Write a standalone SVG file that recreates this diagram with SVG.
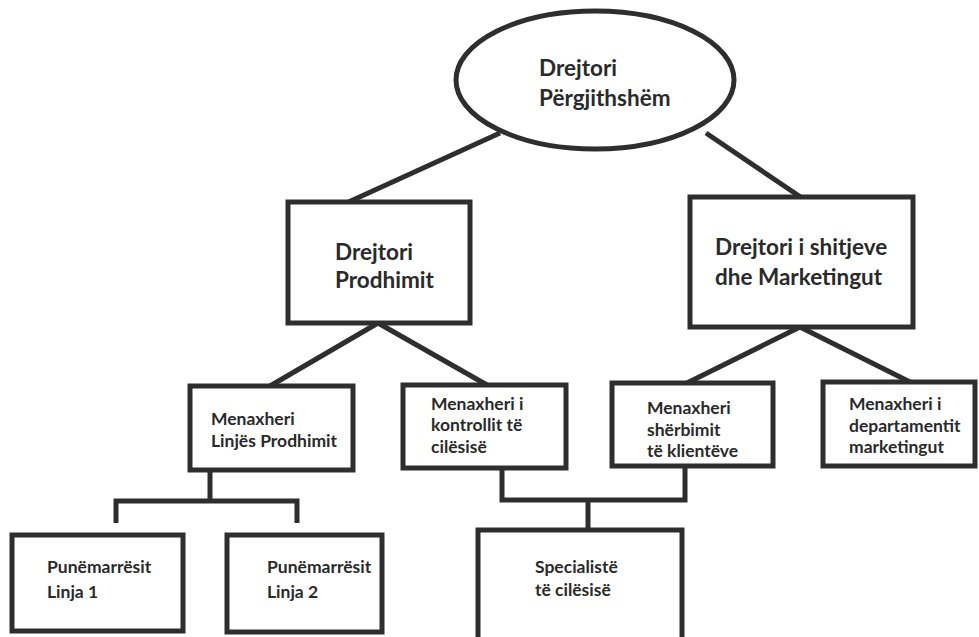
<svg xmlns="http://www.w3.org/2000/svg" width="979" height="637" viewBox="0 0 979 637">
<style>
.box{fill:#fff;stroke:#2e2e2e;stroke-width:5}
.ln{fill:none;stroke:#2e2e2e;stroke-width:5;stroke-linejoin:miter}
.t{font-family:Lato,"Open Sans","Liberation Sans",sans-serif;font-weight:bold;fill:#2a2a2a}
.tL{font-size:22.5px}
.tS{font-size:17.5px}
</style>
<rect width="979" height="637" fill="#fff"/>
<g id="connectors">
<line class="ln" x1="500" y1="133" x2="342" y2="205"/>
<line class="ln" x1="706" y1="133" x2="805" y2="200"/>
<line class="ln" x1="378" y1="323" x2="270" y2="386"/>
<line class="ln" x1="378" y1="323" x2="487" y2="385"/>
<line class="ln" x1="800" y1="327" x2="687" y2="383"/>
<line class="ln" x1="800" y1="327" x2="910" y2="382"/>
<polyline class="ln" points="210,470 210,501"/>
<polyline class="ln" points="116,523 116,501 297,501 297,523"/>
<polyline class="ln" points="502,467 502,500 685,500 685,466"/>
<polyline class="ln" points="588,500 588,530"/>
</g>
<g id="n-drejtori-pergjithshem">
<ellipse class="box" cx="595" cy="80" rx="139" ry="69" stroke-width="4"/>
<text class="t tL" x="539" y="76">Drejtori</text>
<text class="t tL" x="539" y="106">Përgjithshëm</text>
</g>
<g id="n-drejtori-prodhimit">
<rect class="box" x="288" y="202" width="182" height="121"/>
<text class="t tL" x="335" y="260">Drejtori</text>
<text class="t tL" x="335" y="288">Prodhimit</text>
</g>
<g id="n-drejtori-shitjeve">
<rect class="box" x="690" y="197" width="223" height="130"/>
<text class="t tL" x="715" y="255">Drejtori i shitjeve</text>
<text class="t tL" x="715" y="285">dhe Marketingut</text>
</g>
<g id="n-menaxheri-linjes">
<rect class="box" x="190" y="386" width="163" height="84"/>
<text class="t tS" x="211" y="425">Menaxheri</text>
<text class="t tS" x="211" y="447">Linjës Prodhimit</text>
</g>
<g id="n-menaxheri-kontrollit">
<rect class="box" x="403" y="385" width="163" height="83"/>
<text class="t tS" x="431" y="410">Menaxheri i</text>
<text class="t tS" x="431" y="431">kontrollit të</text>
<text class="t tS" x="431" y="453">cilësisë</text>
</g>
<g id="n-menaxheri-sherbimit">
<rect class="box" x="612" y="383" width="161" height="83"/>
<text class="t tS" x="647" y="414">Menaxheri</text>
<text class="t tS" x="647" y="436">shërbimit</text>
<text class="t tS" x="647" y="457">të klientëve</text>
</g>
<g id="n-menaxheri-departamentit">
<rect class="box" x="823" y="382" width="152" height="84"/>
<text class="t tS" x="849" y="410">Menaxheri i</text>
<text class="t tS" x="849" y="432">departamentit</text>
<text class="t tS" x="849" y="453">marketingut</text>
</g>
<g id="n-punemarresit-1">
<rect class="box" x="12" y="535" width="171" height="96"/>
<text class="t tS" x="47" y="573">Punëmarrësit</text>
<text class="t tS" x="47" y="598">Linja 1</text>
</g>
<g id="n-punemarresit-2">
<rect class="box" x="227" y="535" width="155" height="97"/>
<text class="t tS" x="267" y="573">Punëmarrësit</text>
<text class="t tS" x="267" y="598">Linja 2</text>
</g>
<g id="n-specialiste">
<rect class="box" x="478" y="530" width="204" height="120"/>
<text class="t tS" x="535" y="573">Specialistë</text>
<text class="t tS" x="535" y="596">të cilësisë</text>
</g>
</svg>
